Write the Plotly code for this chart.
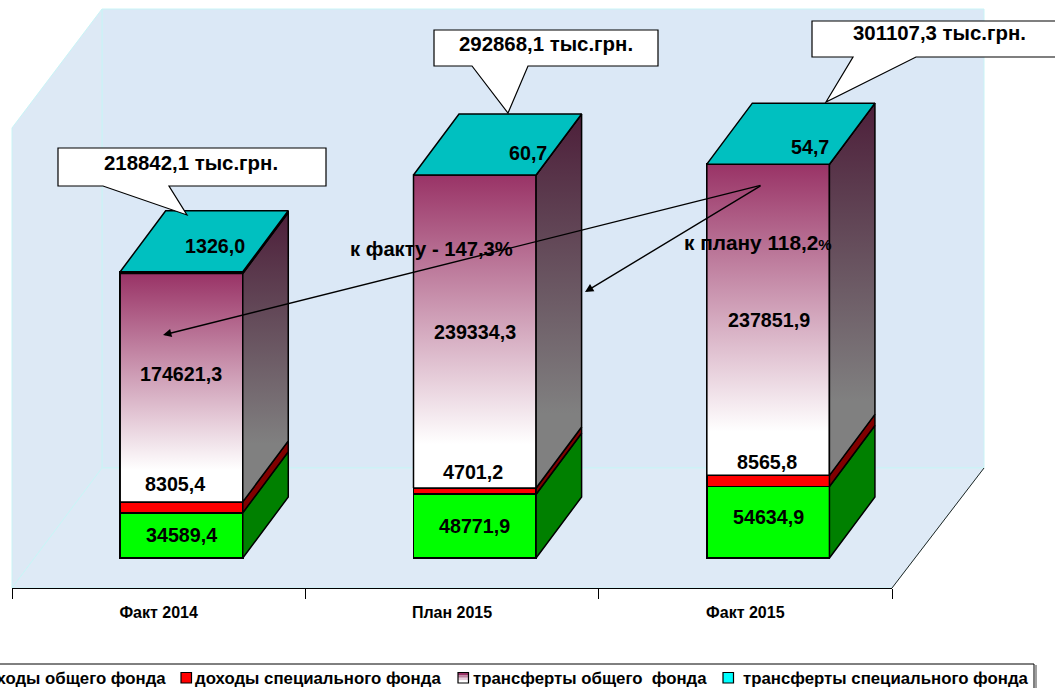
import plotly.graph_objects as go

CATEGORIES = ["Факт 2014", "План 2015", "Факт 2015"]
INCOME_GENERAL = [34589.4, 48771.9, 54634.9]
INCOME_SPECIAL = [8305.4, 4701.2, 8565.8]
TRANSFER_GENERAL = [174621.3, 239334.3, 237851.9]
TRANSFER_SPECIAL = [1326.0, 60.7, 54.7]
TOTAL_LABELS = ["218842,1 тыс.грн.", "292868,1 тыс.грн.", "301107,3 тыс.грн."]
LEGEND_NAMES = ["доходы общего фонда", "доходы специального фонда",
                "трансферты общего \u00a0фонда", "трансферты специального фонда"]

W, H = 1055, 688
AX_L, AX_R, AX_Y = 12, 892, 588      # pixel box of the axes
ZERO_Y = 558                          # pixel of value 0 on the front plane
K = 0.001308                          # pixels per unit
PX_PER_CAT = (AX_R - AX_L) / 3
FONT = "Liberation Sans, Arial, sans-serif"
LW = 1.5


def px(x):
    return (x - AX_L) / (AX_R - AX_L)


def py(y):
    return (AX_Y - y) / AX_Y


def path(points):
    return "M" + " L".join(f"{px(a):.5f},{py(b):.5f}" for a, b in points) + " Z"


SHIFT = 22.8 / PX_PER_CAT
HALF = 61.3 / PX_PER_CAT
DX = 45.5 / PX_PER_CAT
DY = 61 / K

shapes = []
EDGE = "#c9f4f6"
for pts, col in [
    ([(102, 9), (984, 9), (984, 468), (102, 468)], "#dbe8f6"),
    ([(12, 128), (102, 9), (102, 468), (12, 588)], "#dde9f5"),
    ([(12, 588), (892, 588), (984, 468), (102, 468)], "#deeaf6"),
]:
    shapes.append(dict(type="path", xref="paper", yref="paper", path=path(pts),
                       fillcolor=col, line=dict(color=EDGE, width=1), layer="below"))
shapes.append(dict(type="line", xref="paper", yref="paper", x0=px(892), y0=py(588),
                   x1=px(984), y1=py(468), line=dict(color="#222", width=1), layer="below"))

fig = go.Figure()

series = [INCOME_GENERAL, INCOME_SPECIAL, TRANSFER_GENERAL, TRANSFER_SPECIAL]
bar_cols = ["#00ff00", "#ff0000", "#d9a9c4", "#00c0c0"]
side_cols = ["#008000", "#800000", None, "#006060"]
for s, name, c in zip(series, LEGEND_NAMES, bar_cols):
    fig.add_bar(x=[i + SHIFT for i in range(3)], y=s, name=name, width=2 * HALF,
                marker=dict(color=c, line=dict(color="black", width=LW)))

for i in range(3):
    x0, x1 = i + SHIFT - HALF, i + SHIFT + HALF
    base = 0
    for j, s in enumerate(series):
        top = base + s[i]
        if j == 2:
            fig.add_scatter(x=[x0, x1, x1, x0, x0], y=[base, base, top, top, base],
                            mode="lines", fill="toself", line=dict(color="black", width=LW),
                            fillgradient=dict(type="vertical",
                                              colorscale=[[0, "#ffffff"], [0.14, "#ffffff"], [1, "#993366"]]),
                            hoverinfo="skip", cliponaxis=False)
            fig.add_scatter(x=[x1, x1 + DX, x1 + DX, x1, x1], y=[base, base + DY, top + DY, top, base],
                            mode="lines", fill="toself", line=dict(color="black", width=LW),
                            fillgradient=dict(type="vertical",
                                              colorscale=[[0, "#808080"], [0.2, "#808080"], [1, "#4d1f3a"]]),
                            hoverinfo="skip", cliponaxis=False)
        else:
            fig.add_scatter(x=[x1, x1 + DX, x1 + DX, x1, x1], y=[base, base + DY, top + DY, top, base],
                            mode="lines", fill="toself", fillcolor=side_cols[j],
                            line=dict(color="black", width=LW), hoverinfo="skip", cliponaxis=False)
        base = top
    # top face
    fig.add_scatter(x=[x0, x1, x1 + DX, x0 + DX, x0], y=[base, base, base + DY, base + DY, base],
                    mode="lines", fill="toself", fillcolor="#00c0c0",
                    line=dict(color="black", width=LW), hoverinfo="skip", cliponaxis=False)

# value labels
annotations = []
LBL = dict(size=19.7, family=FONT, color="black")
INC_SHIFT = [(-6, 18), (-2, 16), (-1, 13)]
TRF_SHIFT = [(0, 14), (0, 0), (1, 0)]
TOP_SHIFT = [(34, 26), (53, 22), (42, 17)]
GEN_SHIFT = [(0, 0), (0, 0), (0, 5)]


def fmt(v):
    return f"{v:.1f}".replace(".", ",")


for i in range(3):
    g, r, t, s = (a[i] for a in series)
    xc = i + SHIFT
    items = [
        (g, g / 2, GEN_SHIFT[i]),
        (r, g + r, INC_SHIFT[i]),
        (t, g + r + t / 2, TRF_SHIFT[i]),
        (s, g + r + t + s, TOP_SHIFT[i]),
    ]
    for val, yy, (dx, dy) in items:
        annotations.append(dict(x=xc, y=yy, xref="x", yref="y", text=f"<b>{fmt(val)}</b>",
                                showarrow=False, font=LBL, xshift=dx, yshift=dy,
                                xanchor="center", yanchor="middle"))
# callouts
CALLOUTS = [
    ([(58, 148), (326, 148), (326, 186), (169, 186), (187, 215), (103, 186), (58, 186)], (190.5, 163)),
    ([(434, 30), (658, 30), (658, 66), (528, 66), (508, 113), (472, 66), (434, 66)], (546, 44)),
    ([(812, 21), (1060, 21), (1060, 57), (916, 57), (826, 102), (853, 57), (812, 57)], (939, 33)),
]
for (pts, (tx, ty)), label in zip(CALLOUTS, TOTAL_LABELS):
    shapes.append(dict(type="path", xref="paper", yref="paper", path=path(pts),
                       fillcolor="white", line=dict(color="black", width=1.2), layer="above"))
    annotations.append(dict(x=px(tx), y=py(ty), xref="paper", yref="paper", text=f"<b>{label}</b>",
                            showarrow=False, font=dict(size=20.4, family=FONT, color="black"),
                            xanchor="center", yanchor="middle"))

# arrows and comparison notes
for (tipx, tipy) in [(163, 335), (585, 292)]:
    annotations.append(dict(x=px(tipx), y=py(tipy), xref="paper", yref="paper", text="",
                            showarrow=True, arrowhead=2, arrowsize=1.2, arrowwidth=1.4,
                            arrowcolor="black", ax=762 - tipx, ay=185 - tipy,
                            axref="pixel", ayref="pixel"))
annotations.append(dict(x=px(431.5), y=py(249), xref="paper", yref="paper",
                        text="<b>к факту - 147,3%</b>", showarrow=False,
                        font=dict(size=20.2, family=FONT, color="black"),
                        xanchor="center", yanchor="middle"))
annotations.append(dict(x=px(757.5), y=py(243), xref="paper", yref="paper",
                        text='<b>к плану 118,2<span style="font-size:15px">%</span></b>', showarrow=False,
                        font=dict(size=20.8, family=FONT, color="black"),
                        xanchor="center", yanchor="middle"))

# legend strip
shapes.append(dict(type="rect", xref="paper", yref="paper", x0=px(-5), x1=px(1034), y0=py(664), y1=py(695),
                   fillcolor="white", line=dict(color="black", width=1), layer="above"))
shapes.append(dict(type="line", xref="paper", yref="paper", x0=px(1036), x1=px(1036), y0=py(665), y1=py(695),
                   line=dict(color="#808080", width=1.5), layer="above"))
LEG_FONT = dict(size=16.8, family=FONT, color="black")
annotations.append(dict(x=px(168), y=py(679), xref="paper", yref="paper", text=f"<b>{LEGEND_NAMES[0]}</b>",
                        showarrow=False, xanchor="right", yanchor="middle", font=LEG_FONT))
for name, sx, tx, cols in [(LEGEND_NAMES[1], 181, 193, ["#ff0000"]),
                           (LEGEND_NAMES[2], 458, 471, ["#993366", "#bb7f9d", "#e6cfdc", "#ffffff"]),
                           (LEGEND_NAMES[3], 723, 741, ["#00ffff"])]:
    band = 10.5 / len(cols)
    for b, col in enumerate(cols):
        shapes.append(dict(type="rect", xref="paper", yref="paper", x0=px(sx), x1=px(sx + 10.5),
                           y0=py(672.5 + b * band), y1=py(672.5 + (b + 1) * band), fillcolor=col,
                           line=dict(width=0), layer="above"))
    shapes.append(dict(type="rect", xref="paper", yref="paper", x0=px(sx), x1=px(sx + 10.5),
                       y0=py(672.5), y1=py(683), fillcolor="rgba(0,0,0,0)",
                       line=dict(color="black", width=1.2), layer="above"))
    annotations.append(dict(x=px(tx), y=py(679), xref="paper", yref="paper", text=f"<b>{name}</b>",
                            showarrow=False, xanchor="left", yanchor="middle", font=LEG_FONT))

fig.update_layout(
    width=W, height=H, barmode="stack", showlegend=False,
    paper_bgcolor="white", plot_bgcolor="rgba(0,0,0,0)",
    margin=dict(l=AX_L, r=W - AX_R, t=0, b=H - AX_Y, pad=0),
    shapes=shapes, annotations=annotations,
    xaxis=dict(range=[-0.5, 2.5], tickvals=[0, 1, 2], ticktext=[f"<b>{c}</b>" for c in CATEGORIES],
               showgrid=False, zeroline=False, showline=True, linecolor="black", linewidth=1,
               ticks="outside", ticklen=10, tickcolor="rgba(0,0,0,0)",
               minor=dict(tickvals=[-0.5, 0.5, 1.5, 2.5], ticks="outside", ticklen=10,
                          tickcolor="black", tickwidth=1, showgrid=False),
               tickfont=dict(size=16, family=FONT, color="black"), fixedrange=True),
    yaxis=dict(range=[(ZERO_Y - AX_Y) / K, ZERO_Y / K], visible=False, fixedrange=True),
)
fig.write_html("out.html", config=dict(displayModeBar=False),
               post_script="document.body.style.margin='0';")
